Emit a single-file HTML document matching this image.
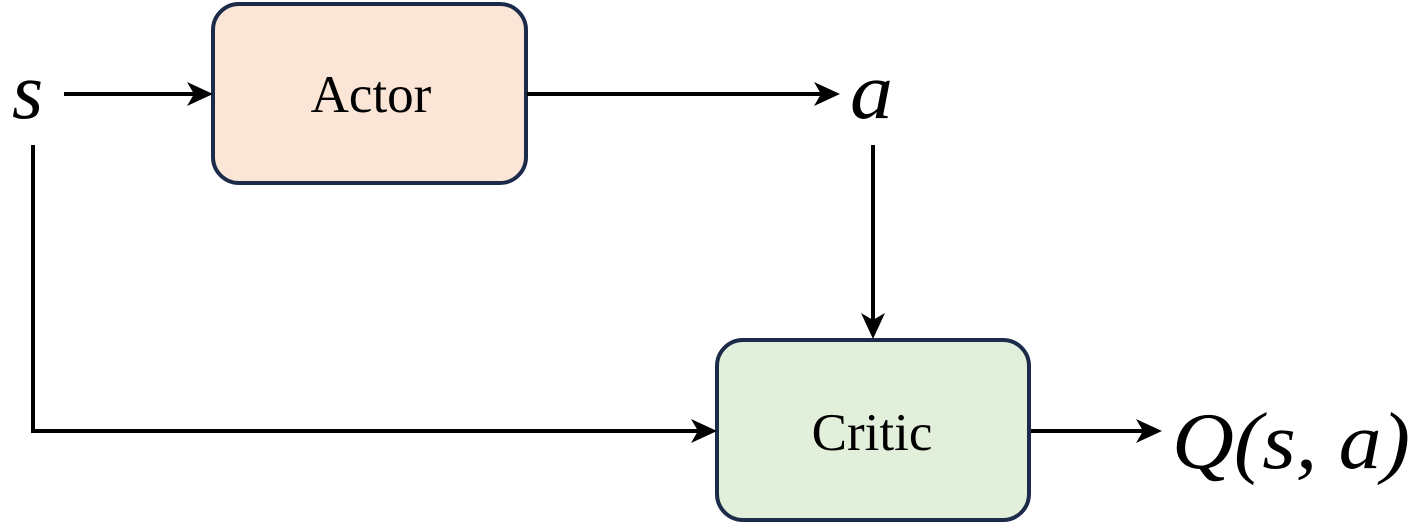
<!DOCTYPE html>
<html><head><style>html,body{margin:0;padding:0;background:#fff;}svg{display:block}</style></head>
<body>
<svg width="1427" height="524" viewBox="0 0 1427 524" xmlns="http://www.w3.org/2000/svg">
<rect x="213" y="4" width="313" height="179" rx="26" fill="#FAE5D7" stroke="#1C2B4A" stroke-width="4"/>
<rect x="717" y="340" width="312" height="180" rx="26" fill="#E2EFDA" stroke="#1C2B4A" stroke-width="4"/>
<text x="371" y="112" font-family="Liberation Serif, serif" font-size="53" text-anchor="middle" fill="#000">Actor</text>
<text x="872" y="450" font-family="Liberation Serif, serif" font-size="53" text-anchor="middle" fill="#000">Critic</text>
<g stroke="#000" stroke-width="4" fill="none">
<line x1="64" y1="94" x2="195" y2="94"/>
<line x1="527" y1="94" x2="822" y2="94"/>
<line x1="873" y1="145" x2="873" y2="322"/>
<polyline points="33,145 33,431 700,431"/>
<line x1="1031" y1="431" x2="1143" y2="431"/>
</g>
<g fill="#000">
<path d="M213,94 L187,82 L194,94 L187,106 Z"/>
<path d="M840,94 L814,82 L821,94 L814,106 Z"/>
<path d="M873,339 L861,313 L873,320 L885,313 Z"/>
<path d="M717,431 L691,419 L698,431 L691,443 Z"/>
<path d="M1162,431 L1136,419 L1143,431 L1136,443 Z"/>
</g>
<text x="12" y="118" font-family="Liberation Serif, serif" font-style="italic" font-size="80" fill="#000">s</text>
<text x="850" y="118" font-family="Liberation Serif, serif" font-style="italic" font-size="80" fill="#000" textLength="43" lengthAdjust="spacingAndGlyphs">a</text>
<text x="1172" y="468" font-family="Liberation Serif, serif" font-style="italic" font-size="80" fill="#000" textLength="238" lengthAdjust="spacingAndGlyphs">Q(s, a)</text>
</svg>
</body></html>
